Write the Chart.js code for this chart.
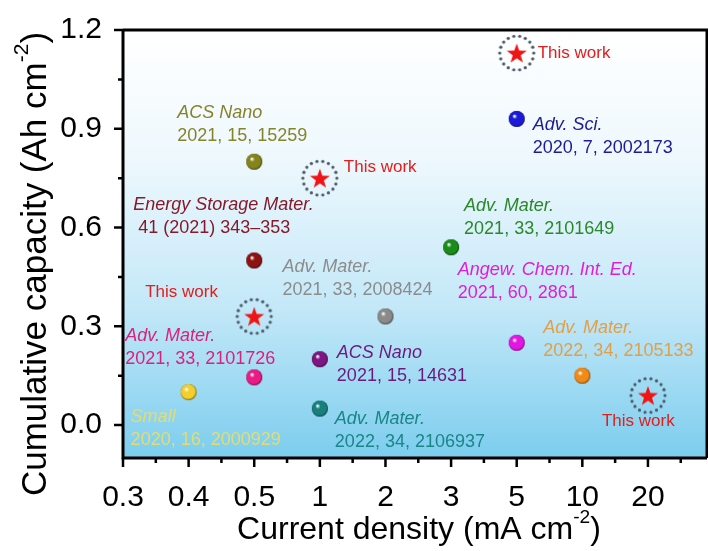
<!DOCTYPE html>
<html>
<head>
<meta charset="utf-8">
<script src="https://cdn.jsdelivr.net/npm/chart.js@4"></script>
<style>
  html, body { margin: 0; padding: 0; background: #fff; }
  #wrap { width: 708px; height: 551px; }
</style>
</head>
<body>
<div id="wrap"><canvas id="c" width="708" height="551"></canvas></div>
<script>
// x axis is an evenly spaced category scale
const xTickLabels = ['0.3', '0.4', '0.5', '1', '2', '3', '5', '10', '20'];
const yTicks = [0, 0.3, 0.6, 0.9, 1.2];

// literature points
const refX = ['0.4', '0.5', '0.5', '0.5', '1', '1', '2', '3', '5', '5', '10'];
const refY = [0.10, 0.145, 0.50, 0.80, 0.20, 0.05, 0.33, 0.54, 0.93, 0.25, 0.15];
const refJournal = ['Small', 'Adv. Mater.', 'Energy Storage Mater.', 'ACS Nano', 'ACS Nano', 'Adv. Mater.',
  'Adv. Mater.', 'Adv. Mater.', 'Adv. Sci.', 'Angew. Chem. Int. Ed.', 'Adv. Mater.'];
const refCite = ['2020, 16, 2000929', '2021, 33, 2101726', ' 41 (2021) 343\u2013353', '2021, 15, 15259',
  '2021, 15, 14631', '2022, 34, 2106937', '2021, 33, 2008424', '2021, 33, 2101649', '2020, 7, 2002173',
  '2021, 60, 2861', '2022, 34, 2105133'];

// this work
const workX = ['0.5', '1', '5', '20'];
const workY = [0.33, 0.75, 1.13, 0.09];
const workText = 'This work';

// styling (colours + label offsets from the point, in px)
const refBall = ['#f2cf2a', '#ec1a86', '#8e1212', '#84841a', '#7e1580', '#18807c', '#8a8a8a', '#1a8c1a', '#1a1ad8', '#e416e4', '#f28a16'];
const refText = ['#e2dc72', '#d8227e', '#861a2a', '#84842a', '#6a1a7c', '#1a8686', '#8c8c8c', '#2a882a', '#1c1c96', '#e01ed8', '#e0a048'];
const refOff = [[-58, 25], [-129, -41], [-121, -55], [-77, -49], [17, -6], [15, 10], [-103, -49], [13, -41], [16, 6], [-59, -73], [-39, -48]];
const workOff = [[-109, -24], [24, -11], [21, 0], [-46, 26]];

const idx = v => xTickLabels.indexOf(v);

function ball(col) {
  const cv = document.createElement('canvas');
  cv.width = 18; cv.height = 18;
  const g = cv.getContext('2d');
  const gr = g.createRadialGradient(6.5, 6, 0.5, 9, 9, 8.5);
  gr.addColorStop(0, '#ffffff');
  gr.addColorStop(0.25, col);
  gr.addColorStop(0.8, col);
  gr.addColorStop(1, 'rgba(0,0,0,0.55)');
  g.beginPath(); g.arc(9, 9, 8, 0, Math.PI * 2);
  g.fillStyle = col; g.fill();
  g.fillStyle = gr; g.fill();
  return cv;
}

function starMark() {
  const cv = document.createElement('canvas');
  cv.width = 42; cv.height = 42;
  const g = cv.getContext('2d');
  g.fillStyle = '#4b5866';
  for (let i = 0; i < 18; i++) {
    const a = i / 18 * Math.PI * 2;
    g.beginPath(); g.arc(21 + 17 * Math.cos(a), 21 + 17 * Math.sin(a), 1.6, 0, Math.PI * 2); g.fill();
  }
  g.beginPath();
  for (let i = 0; i < 10; i++) {
    const r = i % 2 ? 4.2 : 10.5;
    const a = -Math.PI / 2 + i * Math.PI / 5;
    g.lineTo(21 + r * Math.cos(a), 22 + r * Math.sin(a));
  }
  g.closePath();
  g.fillStyle = '#f01414'; g.fill();
  return cv;
}

const star = starMark();

const decor = {
  id: 'decor',
  beforeDatasetsDraw(chart) {
    const { ctx, chartArea: a } = chart;
    const gr = ctx.createLinearGradient(0, a.top, 0, a.bottom);
    gr.addColorStop(0, '#ffffff');
    gr.addColorStop(0.3, '#eef8fd');
    gr.addColorStop(0.65, '#c3e8f8');
    gr.addColorStop(1, '#7ccdee');
    ctx.save();
    ctx.fillStyle = gr;
    ctx.fillRect(a.left, a.top, a.right - a.left, a.bottom - a.top);
    ctx.restore();
  },
  afterDraw(chart) {
    const { ctx, chartArea: a, scales: { x, y } } = chart;
    ctx.save();
    ctx.strokeStyle = '#000';
    // frame
    ctx.lineWidth = 3;
    ctx.beginPath();
    ctx.moveTo(a.left, a.top); ctx.lineTo(a.right, a.top); ctx.lineTo(a.right, a.bottom);
    ctx.moveTo(a.left - 1.5, a.bottom); ctx.lineTo(a.right, a.bottom);
    ctx.moveTo(a.left, a.top); ctx.lineTo(a.left, a.bottom + 1.5);
    ctx.stroke();
    // ticks
    ctx.lineWidth = 2.5;
    ctx.beginPath();
    for (let i = 0; i <= 17; i++) {
      const px = x.getPixelForValue(i / 2);
      if (px > a.right + 1) break;
      ctx.moveTo(px, a.bottom); ctx.lineTo(px, a.bottom + (i % 2 ? 5 : 9));
    }
    for (let v = -0.15; v <= 1.21; v += 0.15) {
      const py = y.getPixelForValue(v);
      if (py > a.bottom) continue;
      const major = Math.abs(Math.round(v / 0.3) * 0.3 - v) < 1e-6;
      ctx.moveTo(a.left, py); ctx.lineTo(a.left - (major ? 9 : 5), py);
    }
    ctx.stroke();

    // annotation text
    ctx.textBaseline = 'middle';
    refX.forEach((xv, i) => {
      const px = x.getPixelForValue(idx(xv)) + refOff[i][0];
      const py = y.getPixelForValue(refY[i]) + refOff[i][1];
      ctx.fillStyle = refText[i];
      ctx.font = 'italic 18px "Liberation Sans", Arial, sans-serif';
      ctx.fillText(refJournal[i], px, py);
      ctx.font = '18px "Liberation Sans", Arial, sans-serif';
      ctx.fillText(refCite[i], px, py + 23);
    });
    ctx.fillStyle = '#e41c1c';
    ctx.font = '17px "Liberation Sans", Arial, sans-serif';
    workX.forEach((xv, i) => {
      ctx.fillText(workText, x.getPixelForValue(idx(xv)) + workOff[i][0], y.getPixelForValue(workY[i]) + workOff[i][1]);
    });

    // axis titles with superscripts
    ctx.fillStyle = '#000';
    const title = (parts, size) => {
      let w = 0;
      parts.forEach(p => {
        ctx.font = (p.sup ? size * 0.6 : size) + 'px "Liberation Sans", Arial, sans-serif';
        w += ctx.measureText(p.t).width;
      });
      let cx = -w / 2;
      parts.forEach(p => {
        ctx.font = (p.sup ? size * 0.6 : size) + 'px "Liberation Sans", Arial, sans-serif';
        ctx.fillText(p.t, cx, p.sup ? -size * 0.38 : 0);
        cx += ctx.measureText(p.t).width;
      });
    };
    ctx.save();
    ctx.translate((a.left + a.right) / 2 + 4, 530);
    title([{ t: 'Current density (mA cm' }, { t: '-2', sup: true }, { t: ')' }], 32);
    ctx.restore();
    ctx.save();
    ctx.translate(36, 264);
    ctx.rotate(-Math.PI / 2);
    title([{ t: 'Cumulative capacity (Ah cm' }, { t: '-2', sup: true }, { t: ')' }], 35);
    ctx.restore();
    ctx.restore();
  }
};

new Chart(document.getElementById('c'), {
  type: 'scatter',
  data: {
    datasets: [
      {
        data: refX.map((xv, i) => ({ x: idx(xv), y: refY[i] })),
        pointStyle: refBall.map(ball),
        radius: 9, hoverRadius: 9
      },
      {
        data: workX.map((xv, i) => ({ x: idx(xv), y: workY[i] })),
        pointStyle: star,
        radius: 21, hoverRadius: 21
      }
    ]
  },
  options: {
    responsive: false,
    animation: false,
    events: [],
    layout: { autoPadding: false, padding: { top: 30, right: 1, left: 0, bottom: 0 } },
    plugins: { legend: { display: false }, tooltip: { enabled: false } },
    scales: {
      x: {
        type: 'linear', min: 0, max: 8.9,
        afterBuildTicks: s => { s.ticks = xTickLabels.map((_, i) => ({ value: i })); },
        afterFit: s => { s.height = 93; s.paddingLeft = 0; s.paddingRight = 0; },
        grid: { display: false }, border: { display: false },
        ticks: { color: '#000', padding: 14, font: { size: 30, family: '"Liberation Sans", Arial' }, callback: v => xTickLabels[v], maxRotation: 0 }
      },
      y: {
        type: 'linear', min: -0.1, max: 1.2,
        afterBuildTicks: s => { s.ticks = yTicks.map(v => ({ value: v })); },
        afterFit: s => { s.width = 123; s.paddingTop = 0; s.paddingBottom = 0; },
        grid: { display: false }, border: { display: false },
        ticks: { color: '#000', padding: 13, font: { size: 30, family: '"Liberation Sans", Arial' }, callback: v => v.toFixed(1) }
      }
    }
  },
  plugins: [decor]
});
</script>
</body>
</html>
